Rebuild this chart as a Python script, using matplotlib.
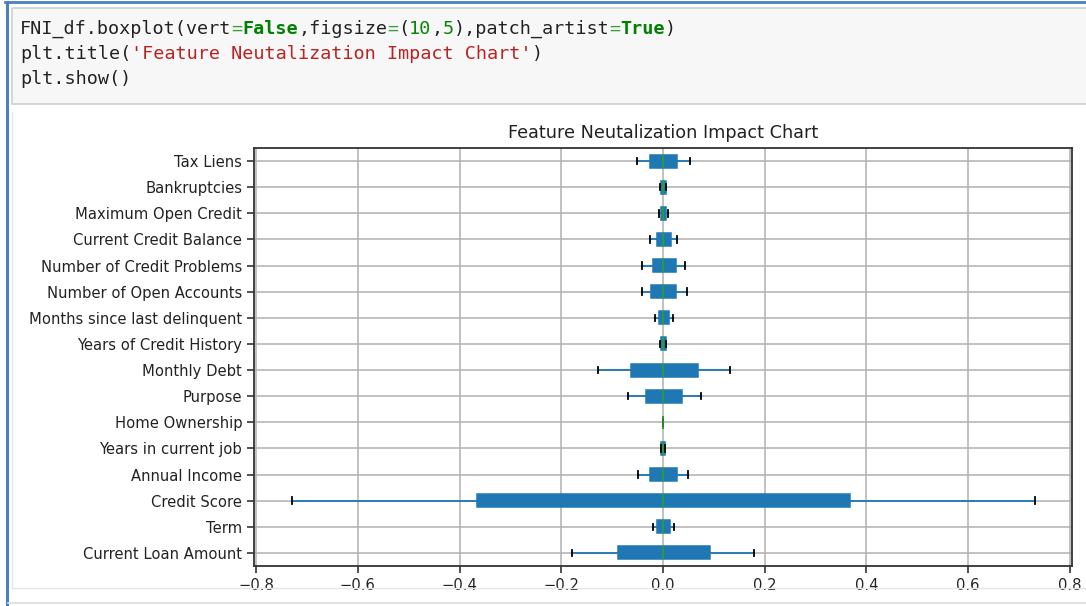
import matplotlib.pyplot as plt
from matplotlib.patches import Rectangle
from matplotlib.lines import Line2D

# feature names, bottom to top (pandas puts the first column at the bottom)
features = ['Current Loan Amount', 'Term', 'Credit Score', 'Annual Income',
            'Years in current job', 'Home Ownership', 'Purpose', 'Monthly Debt',
            'Years of Credit History', 'Months since last delinquent',
            'Number of Open Accounts', 'Number of Credit Problems',
            'Current Credit Balance', 'Maximum Open Credit', 'Bankruptcies', 'Tax Liens']

# box stats
whis_lo = [-0.178, -0.020, -0.730, -0.049, -0.004, 0.0, -0.068, -0.128,
           -0.006, -0.016, -0.042, -0.042, -0.025, -0.007, -0.006, -0.051]
q1 = [-0.088, -0.011, -0.366, -0.026, -0.003, 0.0, -0.034, -0.063,
      -0.004, -0.008, -0.023, -0.020, -0.011, -0.003, -0.004, -0.025]
med = [0.0] * 16
q3 = [0.092, 0.013, 0.367, 0.028, 0.003, 0.0, 0.037, 0.068,
      0.005, 0.011, 0.025, 0.025, 0.016, 0.005, 0.005, 0.027]
whis_hi = [0.179, 0.021, 0.732, 0.049, 0.004, 0.0, 0.074, 0.131,
           0.006, 0.019, 0.047, 0.044, 0.027, 0.010, 0.006, 0.053]

code_lines = [
    [('FNI_df.boxplot(vert', 'k'), ('=', 'op'), ('False', 'kw'), (',figsize', 'k'),
     ('=', 'op'), ('(', 'k'), ('10', 'num'), (',', 'k'), ('5', 'num'), ('),patch_artist', 'k'),
     ('=', 'op'), ('True', 'kw'), (')', 'k')],
    [('plt.title(', 'k'), ("'Feature Neutalization Impact Chart'", 'str'), (')', 'k')],
    [('plt.show()', 'k')],
]
code_colors = {'k': '#222222', 'op': '#3aa03a', 'kw': '#008000', 'num': '#008800', 'str': '#ba2121'}

W, H, DPI = 1086, 606, 100
fig = plt.figure(figsize=(W / DPI, H / DPI), dpi=DPI)
fig.patch.set_facecolor('white')

# notebook frame: blue selection bar, code cell, output area
fig.add_artist(Line2D([5 / W, 1], [1 - 2 / H, 1 - 2 / H], color='#4a7fc1', lw=2))
fig.add_artist(Line2D([6.5 / W, 6.5 / W], [0, 1 - 2 / H], color='#4a7fc1', lw=2.2))
fig.add_artist(Rectangle((12 / W, 1 - 104 / H), 1.0, 96 / H, facecolor='#f7f7f7',
                         edgecolor='#cfcfcf', lw=1.2))
fig.add_artist(Line2D([12 / W, 1], [1 - 588 / H, 1 - 588 / H], color='#e6e6e6', lw=1))
fig.add_artist(Line2D([12 / W, 12 / W], [1 - 588 / H, 1 - 112 / H], color='#e6e6e6', lw=1))
fig.add_artist(Line2D([8 / W, 1], [1 - 603 / H, 1 - 603 / H], color='#dddddd', lw=1.2))

# code text, monospaced so each segment goes after the previous one
code_size = 13.3
char_w = 0.602 * code_size * DPI / 72
line_y = [29, 54, 79.5]
for row, segs in enumerate(code_lines):
    col = 0
    for txt, kind in segs:
        fig.text((20 + col * char_w) / W, 1 - line_y[row] / H, txt,
                 family='DejaVu Sans Mono', fontsize=code_size,
                 color=code_colors[kind], va='center', ha='left',
                 fontweight='bold' if kind == 'kw' else 'normal')
        col += len(txt)

ax = fig.add_axes([254 / W, 1 - 566 / H, (1072 - 254) / W, (566 - 148) / H])

stats = []
for i, name in enumerate(features):
    stats.append({'label': name, 'whislo': whis_lo[i], 'q1': q1[i], 'med': med[i],
                  'q3': q3[i], 'whishi': whis_hi[i], 'fliers': []})

ax.bxp(stats, vert=False, patch_artist=True, widths=0.5,
       boxprops=dict(facecolor='#1f77b4', edgecolor='#1f77b4', linewidth=1.1),
       whiskerprops=dict(color='#1f77b4', linewidth=1.3),
       capprops=dict(color='black', linewidth=1.3),
       medianprops=dict(color='#2ca02c', linewidth=1.2))

ax.set_xlim(-0.804, 0.804)
ax.set_ylim(0.5, len(features) + 0.5)
ax.set_xticks([-0.8, -0.6, -0.4, -0.2, 0.0, 0.2, 0.4, 0.6, 0.8])
ax.grid(True, color='#b0b0b0', linewidth=1.1)
ax.set_axisbelow(True)
ax.tick_params(labelsize=10.6, length=5, width=1.1, colors='#222222')
for sp in ax.spines.values():
    sp.set_linewidth(1.3)
    sp.set_color('#333333')
ax.set_title('Feature Neutalization Impact Chart', fontsize=12.7, color='#222222', pad=7)

fig.savefig('out.png', dpi=DPI)
